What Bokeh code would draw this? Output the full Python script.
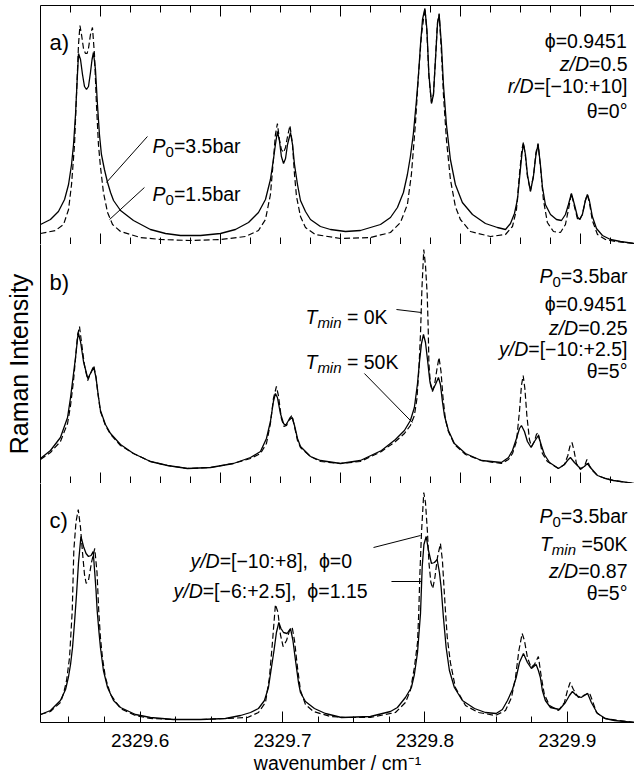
import math
from bokeh.plotting import figure
from bokeh.models import Label, LinearAxis, FixedTicker, Range1d
from bokeh.layouts import column
from bokeh.embed import file_html
from bokeh.resources import INLINE

# ------------------------------------------------------------------ data
# panel a : P0 = 3.5 bar (solid)
a_wn_35 = [2329.5300, 2329.5370, 2329.5426, 2329.5469, 2329.5497, 2329.5518, 2329.5532, 2329.5546, 2329.5556, 2329.5567,
           2329.5581, 2329.5595, 2329.5609, 2329.5623, 2329.5637, 2329.5651, 2329.5662, 2329.5672, 2329.5686, 2329.5700,
           2329.5714, 2329.5728, 2329.5749, 2329.5771, 2329.5792, 2329.5813, 2329.5862, 2329.5953, 2329.6072, 2329.6178,
           2329.6283, 2329.6424, 2329.6564, 2329.6669, 2329.6761, 2329.6831, 2329.6880, 2329.6915, 2329.6936, 2329.6950,
           2329.6964, 2329.6978, 2329.6992, 2329.7007, 2329.7021, 2329.7035, 2329.7056, 2329.7070, 2329.7084, 2329.7105,
           2329.7126, 2329.7161, 2329.7196, 2329.7266, 2329.7337, 2329.7442, 2329.7547, 2329.7688, 2329.7758, 2329.7807,
           2329.7849, 2329.7877, 2329.7898, 2329.7919, 2329.7941, 2329.7955, 2329.7969, 2329.7983, 2329.8000, 2329.8014,
           2329.8028, 2329.8046, 2329.8060, 2329.8074, 2329.8088, 2329.8100, 2329.8116, 2329.8130, 2329.8151, 2329.8179,
           2329.8214, 2329.8263, 2329.8334, 2329.8425, 2329.8509, 2329.8566, 2329.8601, 2329.8629, 2329.8650, 2329.8667,
           2329.8681, 2329.8692, 2329.8706, 2329.8720, 2329.8741, 2329.8762, 2329.8780, 2329.8795, 2329.8811, 2329.8825,
           2329.8846, 2329.8882, 2329.8924, 2329.8959, 2329.8987, 2329.9008, 2329.9029, 2329.9050, 2329.9071, 2329.9085,
           2329.9106, 2329.9127, 2329.9141, 2329.9155, 2329.9176, 2329.9205, 2329.9247, 2329.9303, 2329.9373, 2329.9472]
a_int_35 = [20, 25, 33, 45, 60, 80, 100, 130, 160, 191,
            185, 170, 158, 155, 158, 172, 185, 192, 175, 140,
            110, 90, 75, 62, 52, 44, 34, 24, 15, 11,
            9, 9, 11, 15, 22, 32, 45, 65, 85, 100,
            113, 104, 88, 81, 86, 100, 112, 100, 80, 60,
            44, 33, 25, 18, 15, 13, 14, 20, 27, 37,
            52, 70, 88, 111, 145, 170, 200, 225, 236, 215,
            170, 141, 150, 185, 220, 230, 200, 160, 120, 85,
            60, 42, 30, 21, 17, 15, 21, 31, 45, 70,
            90, 101, 90, 70, 53, 68, 90, 100, 80, 58,
            40, 30, 25, 24, 30, 40, 51, 40, 28, 25,
            30, 44, 50, 44, 28, 16, 9, 5, 3, 1]

# panel a : P0 = 1.5 bar (dashed)
a_wn_15 = [2329.5300, 2329.5405, 2329.5462, 2329.5497, 2329.5518, 2329.5539, 2329.5553, 2329.5567, 2329.5577, 2329.5588,
           2329.5602, 2329.5616, 2329.5627, 2329.5637, 2329.5651, 2329.5665, 2329.5679, 2329.5693, 2329.5707, 2329.5721,
           2329.5742, 2329.5771, 2329.5806, 2329.5862, 2329.6002, 2329.6143, 2329.6353, 2329.6564, 2329.6740, 2329.6831,
           2329.6880, 2329.6915, 2329.6936, 2329.6950, 2329.6964, 2329.6978, 2329.6992, 2329.7007, 2329.7021, 2329.7035,
           2329.7052, 2329.7070, 2329.7084, 2329.7098, 2329.7126, 2329.7161, 2329.7231, 2329.7407, 2329.7617, 2329.7758,
           2329.7828, 2329.7877, 2329.7905, 2329.7933, 2329.7955, 2329.7976, 2329.8000, 2329.8014, 2329.8028, 2329.8046,
           2329.8060, 2329.8074, 2329.8088, 2329.8100, 2329.8116, 2329.8130, 2329.8151, 2329.8179, 2329.8214, 2329.8249,
           2329.8320, 2329.8460, 2329.8566, 2329.8615, 2329.8643, 2329.8664, 2329.8681, 2329.8692, 2329.8706, 2329.8720,
           2329.8741, 2329.8762, 2329.8780, 2329.8795, 2329.8811, 2329.8832, 2329.8860, 2329.8903, 2329.8952, 2329.8987,
           2329.9008, 2329.9029, 2329.9050, 2329.9071, 2329.9085, 2329.9106, 2329.9127, 2329.9141, 2329.9155, 2329.9176,
           2329.9212, 2329.9268, 2329.9338, 2329.9472]
a_int_15 = [11, 14, 20, 35, 60, 100, 150, 200, 219, 210,
            196, 191, 191, 196, 210, 217, 190, 140, 100, 78,
            52, 32, 20, 13, 7, 5, 4, 5, 8, 14,
            25, 50, 85, 110, 121, 105, 95, 92, 97, 108,
            119, 100, 70, 48, 28, 17, 10, 6, 7, 12,
            22, 40, 70, 120, 170, 210, 236, 212, 168, 142,
            150, 185, 222, 231, 192, 150, 105, 65, 38, 25,
            13, 8, 10, 18, 35, 70, 95, 102, 88, 68,
            54, 68, 92, 101, 78, 45, 22, 13, 12, 20,
            35, 51, 38, 26, 24, 30, 44, 50, 42, 24,
            10, 5, 3, 1]

# panel b : Tmin = 50 K (solid)
b_wn_50 = [2329.5300, 2329.5370, 2329.5440, 2329.5490, 2329.5511, 2329.5532, 2329.5546, 2329.5565, 2329.5581, 2329.5602,
           2329.5632, 2329.5651, 2329.5674, 2329.5690, 2329.5704, 2329.5721, 2329.5756, 2329.5792, 2329.5862, 2329.5953,
           2329.6072, 2329.6192, 2329.6332, 2329.6494, 2329.6655, 2329.6775, 2329.6845, 2329.6887, 2329.6915, 2329.6936,
           2329.6950, 2329.6964, 2329.6985, 2329.7007, 2329.7021, 2329.7042, 2329.7068, 2329.7084, 2329.7105, 2329.7126,
           2329.7196, 2329.7266, 2329.7407, 2329.7547, 2329.7695, 2329.7793, 2329.7856, 2329.7898, 2329.7926, 2329.7948,
           2329.7962, 2329.7976, 2329.7990, 2329.8004, 2329.8018, 2329.8035, 2329.8053, 2329.8074, 2329.8095, 2329.8109,
           2329.8123, 2329.8137, 2329.8165, 2329.8207, 2329.8285, 2329.8397, 2329.8537, 2329.8587, 2329.8615, 2329.8643,
           2329.8664, 2329.8678, 2329.8699, 2329.8720, 2329.8746, 2329.8769, 2329.8797, 2329.8818, 2329.8839, 2329.8875,
           2329.8938, 2329.8980, 2329.9001, 2329.9022, 2329.9050, 2329.9092, 2329.9120, 2329.9141, 2329.9162, 2329.9212,
           2329.9268, 2329.9324, 2329.9472]
b_int_50 = [25, 33, 46, 66, 86, 110, 126, 151, 142, 122,
            105, 110, 116, 106, 90, 73, 59, 50, 39, 30,
            22, 18, 15, 16, 20, 26, 32, 45, 62, 82,
            90, 86, 70, 60, 58, 63, 66, 58, 45, 37,
            27, 23, 20, 23, 33, 44, 53, 63, 76, 100,
            122, 140, 149, 141, 124, 102, 93, 99, 106, 99,
            82, 68, 53, 40, 30, 23, 21, 26, 33, 45,
            55, 58, 52, 42, 36, 42, 48, 38, 29, 21,
            15, 19, 23, 26, 21, 15, 17, 20, 16, 8,
            5, 3, 0]

# panel b : Tmin = 0 K (dashed)
b_wn_0 = [2329.5300, 2329.5370, 2329.5440, 2329.5490, 2329.5511, 2329.5532, 2329.5546, 2329.5560, 2329.5574, 2329.5588,
          2329.5609, 2329.5632, 2329.5651, 2329.5674, 2329.5690, 2329.5704, 2329.5721, 2329.5756, 2329.5792, 2329.5862,
          2329.5953, 2329.6072, 2329.6192, 2329.6332, 2329.6494, 2329.6655, 2329.6775, 2329.6845, 2329.6887, 2329.6915,
          2329.6936, 2329.6957, 2329.6971, 2329.6992, 2329.7010, 2329.7028, 2329.7049, 2329.7066, 2329.7084, 2329.7105,
          2329.7126, 2329.7196, 2329.7266, 2329.7407, 2329.7547, 2329.7695, 2329.7793, 2329.7856, 2329.7898, 2329.7926,
          2329.7944, 2329.7958, 2329.7969, 2329.7979, 2329.7992, 2329.8004, 2329.8016, 2329.8023, 2329.8028, 2329.8039,
          2329.8053, 2329.8067, 2329.8084, 2329.8099, 2329.8113, 2329.8127, 2329.8144, 2329.8165, 2329.8207, 2329.8285,
          2329.8397, 2329.8537, 2329.8587, 2329.8615, 2329.8643, 2329.8664, 2329.8678, 2329.8690, 2329.8702, 2329.8716,
          2329.8734, 2329.8748, 2329.8769, 2329.8783, 2329.8794, 2329.8808, 2329.8825, 2329.8860, 2329.8938, 2329.8980,
          2329.9004, 2329.9018, 2329.9033, 2329.9047, 2329.9064, 2329.9092, 2329.9120, 2329.9138, 2329.9155, 2329.9176,
          2329.9212, 2329.9268, 2329.9324, 2329.9472]
b_int_0 = [24, 31, 42, 60, 78, 103, 125, 148, 157, 141,
           118, 103, 110, 118, 106, 89, 72, 58, 49, 38,
           30, 22, 18, 15, 16, 20, 25, 30, 40, 60,
           85, 97, 88, 65, 57, 58, 65, 68, 57, 43,
           36, 27, 22, 20, 22, 32, 42, 50, 58, 68,
           85, 115, 150, 195, 234, 218, 189, 156, 120, 99,
           92, 98, 114, 126, 112, 86, 64, 52, 39, 29,
           23, 20, 24, 30, 42, 72, 98, 108, 95, 68,
           44, 37, 42, 49, 51, 42, 30, 22, 15, 19,
           28, 37, 41, 33, 20, 14, 17, 24, 18, 13,
           8, 5, 3, 0]

# panel c : y/D=[-6:+2.5], phi=1.15 (solid)
c_wn_115 = [2329.5300, 2329.5370, 2329.5440, 2329.5476, 2329.5497, 2329.5511, 2329.5525, 2329.5539, 2329.5553, 2329.5567,
            2329.5584, 2329.5602, 2329.5620, 2329.5637, 2329.5655, 2329.5670, 2329.5681, 2329.5690, 2329.5698, 2329.5711,
            2329.5721, 2329.5742, 2329.5771, 2329.5813, 2329.5862, 2329.5967, 2329.6072, 2329.6234, 2329.6424, 2329.6599,
            2329.6705, 2329.6775, 2329.6831, 2329.6873, 2329.6901, 2329.6922, 2329.6940, 2329.6957, 2329.6974, 2329.6989,
            2329.7007, 2329.7032, 2329.7056, 2329.7073, 2329.7091, 2329.7112, 2329.7126, 2329.7161, 2329.7224, 2329.7301,
            2329.7414, 2329.7617, 2329.7758, 2329.7807, 2329.7863, 2329.7905, 2329.7926, 2329.7948, 2329.7969, 2329.7981,
            2329.7993, 2329.8009, 2329.8025, 2329.8046, 2329.8067, 2329.8086, 2329.8102, 2329.8114, 2329.8130, 2329.8149,
            2329.8172, 2329.8207, 2329.8263, 2329.8348, 2329.8425, 2329.8500, 2329.8544, 2329.8580, 2329.8615, 2329.8641,
            2329.8664, 2329.8692, 2329.8720, 2329.8748, 2329.8781, 2329.8797, 2329.8811, 2329.8825, 2329.8846, 2329.8882,
            2329.8945, 2329.8987, 2329.9015, 2329.9036, 2329.9064, 2329.9097, 2329.9120, 2329.9143, 2329.9169, 2329.9212,
            2329.9268, 2329.9331, 2329.9472]
c_int_115 = [8, 12, 22, 33, 46, 58, 75, 100, 128, 160,
             186, 176, 169, 166, 167, 171, 150, 132, 112, 90,
             75, 52, 35, 22, 15, 8, 5, 3, 3, 4,
             7, 10, 14, 22, 35, 55, 72, 90, 100, 94,
             90, 89, 94, 82, 62, 40, 30, 21, 14, 9,
             5, 6, 11, 15, 25, 35, 48, 70, 109, 156,
             178, 186, 172, 159, 160, 163, 150, 135, 105, 75,
             52, 35, 22, 14, 10, 9, 13, 22, 33, 45,
             60, 69, 60, 54, 58, 52, 45, 32, 22, 15,
             13, 20, 27, 31, 27, 25, 27, 29, 20, 9,
             4, 2, 0]

# panel c : y/D=[-10:+8], phi=0 (dashed)
c_wn_0 = [2329.5300, 2329.5370, 2329.5440, 2329.5462, 2329.5483, 2329.5504, 2329.5523, 2329.5534, 2329.5549, 2329.5565,
          2329.5581, 2329.5595, 2329.5609, 2329.5621, 2329.5637, 2329.5658, 2329.5681, 2329.5697, 2329.5709, 2329.5721,
          2329.5735, 2329.5756, 2329.5792, 2329.5862, 2329.5967, 2329.6072, 2329.6248, 2329.6424, 2329.6599, 2329.6754,
          2329.6831, 2329.6880, 2329.6908, 2329.6929, 2329.6950, 2329.6968, 2329.6985, 2329.7004, 2329.7028, 2329.7049,
          2329.7068, 2329.7084, 2329.7105, 2329.7126, 2329.7161, 2329.7217, 2329.7337, 2329.7442, 2329.7617, 2329.7793,
          2329.7863, 2329.7898, 2329.7926, 2329.7948, 2329.7957, 2329.7964, 2329.7976, 2329.7992, 2329.8004, 2329.8018,
          2329.8028, 2329.8042, 2329.8055, 2329.8070, 2329.8088, 2329.8109, 2329.8123, 2329.8134, 2329.8144, 2329.8157,
          2329.8179, 2329.8214, 2329.8285, 2329.8376, 2329.8495, 2329.8566, 2329.8608, 2329.8636, 2329.8660, 2329.8683,
          2329.8699, 2329.8720, 2329.8746, 2329.8769, 2329.8797, 2329.8818, 2329.8839, 2329.8875, 2329.8938, 2329.8980,
          2329.9001, 2329.9020, 2329.9043, 2329.9078, 2329.9113, 2329.9155, 2329.9176, 2329.9205, 2329.9261, 2329.9472]
c_int_0 = [8, 11, 20, 29, 42, 65, 112, 172, 200, 213,
           195, 170, 148, 139, 142, 160, 174, 150, 112, 85,
           65, 45, 28, 14, 7, 4, 3, 3, 4, 5,
           10, 20, 45, 80, 118, 110, 88, 76, 82, 92,
           95, 82, 55, 32, 18, 11, 6, 5, 5, 10,
           20, 32, 55, 80, 111, 146, 190, 230, 220, 190,
           160, 140, 134, 145, 165, 179, 162, 135, 112, 85,
           60, 35, 17, 10, 7, 12, 25, 45, 72, 89,
           82, 65, 55, 58, 66, 45, 28, 17, 12, 20,
           32, 40, 33, 25, 27, 30, 22, 10, 4, 0]

# ticks
upper_major_ticks = [2329.5721, 2329.6564, 2329.7407, 2329.8250, 2329.9093]
upper_minor_ticks = [2329.5511, 2329.5932, 2329.6143, 2329.6353, 2329.6774, 2329.6985, 2329.7196,
                     2329.7617, 2329.7828, 2329.8039, 2329.8460, 2329.8671, 2329.8882, 2329.9303]
bottom_major_ticks = [2329.6, 2329.7, 2329.8, 2329.9]
bottom_tick_labels = ["2329.6", "2329.7", "2329.8", "2329.9"]
bottom_minor_ticks = [2329.55, 2329.575, 2329.625, 2329.65, 2329.675, 2329.725, 2329.75,
                      2329.775, 2329.825, 2329.85, 2329.875, 2329.925]

# leader lines (x pair, y pair) of the annotations
lead_a_35 = ([2329.6051, 2329.5763], [108, 62])
lead_a_15 = ([2329.6030, 2329.5785], [57, 25])
lead_b_0 = ([2329.7800, 2329.7976], [174, 171])
lead_b_50 = ([2329.7575, 2329.7912], [110, 61])
lead_c_0 = ([2329.7639, 2329.7969], [175, 187])
lead_c_115 = ([2329.7765, 2329.7976], [141, 141])

# ------------------------------------------------------------------ styling
FONT = "Liberation Sans"
FS = 19.5
SUB = 15.0
X0, X1 = 2329.530, 2329.9472
FRAME_W, FRAME_H = 594, 239
SOLID_W = 1.3
DASH_W = 1.2
DASH = "6 3"
NB = "\u00a0"

CW = {' ': 278, NB: 278, '(': 333, ')': 333, '+': 584, ',': 278, '-': 333, '.': 278, '/': 278,
      ':': 278, '=': 584, '[': 278, ']': 278, 'D': 722, 'K': 667, 'P': 667, 'T': 611,
      'a': 556, 'b': 556, 'c': 500, 'e': 556, 'i': 222, 'm': 833, 'n': 556, 'r': 333,
      'u': 556, 'v': 500, 'w': 722, 'y': 500, 'z': 500, '°': 400, '−': 584, 'ϕ': 600, 'θ': 556}


def tw(s, size):
    return sum(CW.get(ch, 556) for ch in s) * size / 1000.0


def rich(p, x, y, runs, align="left", dx=0.0):
    total = sum(tw(t, sz) for t, st, sz, dy in runs)
    off = dx
    if align == "right":
        off = dx - total
    elif align == "center":
        off = dx - total / 2.0
    for t, st, sz, dy in runs:
        p.add_layout(Label(x=x, y=y + dy, x_offset=off, text=t.replace(" ", NB), text_font=FONT,
                           text_font_style=st, text_font_size=f"{sz}px",
                           text_baseline="alphabetic", text_align="left", text_color="black"))
        off += tw(t, sz)


xr = Range1d(X0, X1)


def hide_labels(ax):
    ax.major_label_text_font_size = "0px"
    ax.major_label_text_color = None
    ax.major_label_standoff = 0


def panel(top=0, bottom=0):
    p = figure(frame_width=FRAME_W, frame_height=FRAME_H, x_range=xr, y_range=Range1d(0, 239),
               output_backend="svg", toolbar_location=None,
               x_axis_location=None, y_axis_location=None,
               min_border_left=40, min_border_right=0, min_border_top=top, min_border_bottom=bottom)
    p.outline_line_color = None
    p.xgrid.visible = False
    p.ygrid.visible = False
    left = LinearAxis(ticker=FixedTicker(ticks=[]))
    left.major_tick_in = 0
    left.major_tick_out = 0
    left.minor_tick_in = 0
    left.minor_tick_out = 0
    hide_labels(left)
    left.axis_line_color = "black"
    p.add_layout(left, "left")
    return p, left


def tick_axis(p, side, major, minor, maj_len, min_len, labels=None):
    ax = LinearAxis(ticker=FixedTicker(ticks=major, minor_ticks=minor))
    ax.major_tick_in = maj_len
    ax.major_tick_out = 0
    ax.minor_tick_in = min_len
    ax.minor_tick_out = 0
    ax.axis_line_color = "black"
    ax.major_tick_line_color = "black"
    ax.minor_tick_line_color = "black"
    if labels:
        ax.major_label_overrides = {v: s for v, s in zip(major, labels)}
        ax.major_label_text_font = FONT
        ax.major_label_text_font_size = "19px"
        ax.major_label_text_color = "black"
        ax.major_label_standoff = 11
    else:
        hide_labels(ax)
    p.add_layout(ax, side)
    return ax


def P0(val):
    return [("P", "italic", FS, 0), ("0", "normal", SUB, -6), ("=" + val, "normal", FS, 0)]


def tmin(rest):
    return [("T", "italic", FS, 0), ("min", "italic", SUB, -6), (rest, "normal", FS, 0)]


def lead(p, seg):
    p.line(seg[0], seg[1], line_color="black", line_width=1)


RIGHT_DX = -7

# ------------------------------------------------------------------ panel a
pa, _ = panel(top=5)
tick_axis(pa, "above", upper_major_ticks, upper_minor_ticks, 11, 7)
tick_axis(pa, "below", upper_major_ticks, upper_minor_ticks, 11, 7)
pa.line(a_wn_15, a_int_15, line_color="black", line_width=DASH_W, line_dash=DASH)
pa.line(a_wn_35, a_int_35, line_color="black", line_width=SOLID_W)
lead(pa, lead_a_35)
lead(pa, lead_a_15)
rich(pa, X0, 202, [("a)", "normal", 22, 0)], dx=9)
rich(pa, 2329.6087, 99, P0("3.5bar"))
rich(pa, 2329.6087, 51, P0("1.5bar"))
rich(pa, X1, 204, [("ϕ=0.9451", "normal", FS, 0)], align="right", dx=RIGHT_DX)
rich(pa, X1, 181, [("z/D", "italic", FS, 0), ("=0.5", "normal", FS, 0)], align="right", dx=RIGHT_DX)
rich(pa, X1, 159, [("r/D", "italic", FS, 0), ("=[−10:+10]", "normal", FS, 0)], align="right", dx=RIGHT_DX)
rich(pa, X1, 134, [("θ=0°", "normal", FS, 0)], align="right", dx=RIGHT_DX)

# ------------------------------------------------------------------ panel b
pb, pb_left = panel()
pb_left.axis_label = "Raman Intensity"
pb_left.axis_label_text_font = FONT
pb_left.axis_label_text_font_size = "25px"
pb_left.axis_label_text_font_style = "normal"
pb_left.axis_label_text_color = "black"
pb_left.axis_label_standoff = 8
tick_axis(pb, "below", upper_major_ticks, upper_minor_ticks, 11, 7)
pb.line(b_wn_0, b_int_0, line_color="black", line_width=DASH_W, line_dash=DASH)
pb.line(b_wn_50, b_int_50, line_color="black", line_width=SOLID_W)
lead(pb, lead_b_0)
lead(pb, lead_b_50)
rich(pb, X0, 201, [("b)", "normal", 22, 0)], dx=9)
rich(pb, 2329.7161, 167, tmin(" = 0K"))
rich(pb, 2329.7161, 122, tmin(" = 50K"))
rich(pb, X1, 208, P0("3.5bar"), align="right", dx=RIGHT_DX)
rich(pb, X1, 180, [("ϕ=0.9451", "normal", FS, 0)], align="right", dx=RIGHT_DX)
rich(pb, X1, 156, [("z/D", "italic", FS, 0), ("=0.25", "normal", FS, 0)], align="right", dx=RIGHT_DX)
rich(pb, X1, 135, [("y/D", "italic", FS, 0), ("=[−10:+2.5]", "normal", FS, 0)], align="right", dx=RIGHT_DX)
rich(pb, X1, 113, [("θ=5°", "normal", FS, 0)], align="right", dx=RIGHT_DX)

# ------------------------------------------------------------------ panel c
pc, _ = panel(bottom=60)
xax = tick_axis(pc, "below", bottom_major_ticks, bottom_minor_ticks, 11, 6, labels=bottom_tick_labels)
xax.axis_label = "wavenumber / cm\u207b\u00b9"
xax.axis_label_text_font = FONT
xax.axis_label_text_font_size = "19.5px"
xax.axis_label_text_font_style = "normal"
xax.axis_label_text_color = "black"
xax.axis_label_standoff = 2
pc.line(c_wn_0, c_int_0, line_color="black", line_width=DASH_W, line_dash=DASH)
pc.line(c_wn_115, c_int_115, line_color="black", line_width=SOLID_W)
lead(pc, lead_c_0)
lead(pc, lead_c_115)
rich(pc, X0, 202, [("c)", "normal", 22, 0)], dx=9)
rich(pc, 2329.6353, 162, [("y/D", "italic", FS, 0), ("=[−10:+8],  ϕ=0", "normal", FS, 0)])
rich(pc, 2329.6234, 132, [("y/D", "italic", FS, 0), ("=[−6:+2.5],  ϕ=1.15", "normal", FS, 0)])
rich(pc, X1, 207, P0("3.5bar"), align="right", dx=RIGHT_DX)
rich(pc, X1, 179, tmin(" =50K"), align="right", dx=RIGHT_DX)
rich(pc, X1, 152, [("z/D", "italic", FS, 0), ("=0.87", "normal", FS, 0)], align="right", dx=RIGHT_DX)
rich(pc, X1, 130, [("θ=5°", "normal", FS, 0)], align="right", dx=RIGHT_DX)

layout = column(pa, pb, pc, spacing=0)
open("out.html", "w", encoding="utf-8").write(file_html(layout, INLINE))
